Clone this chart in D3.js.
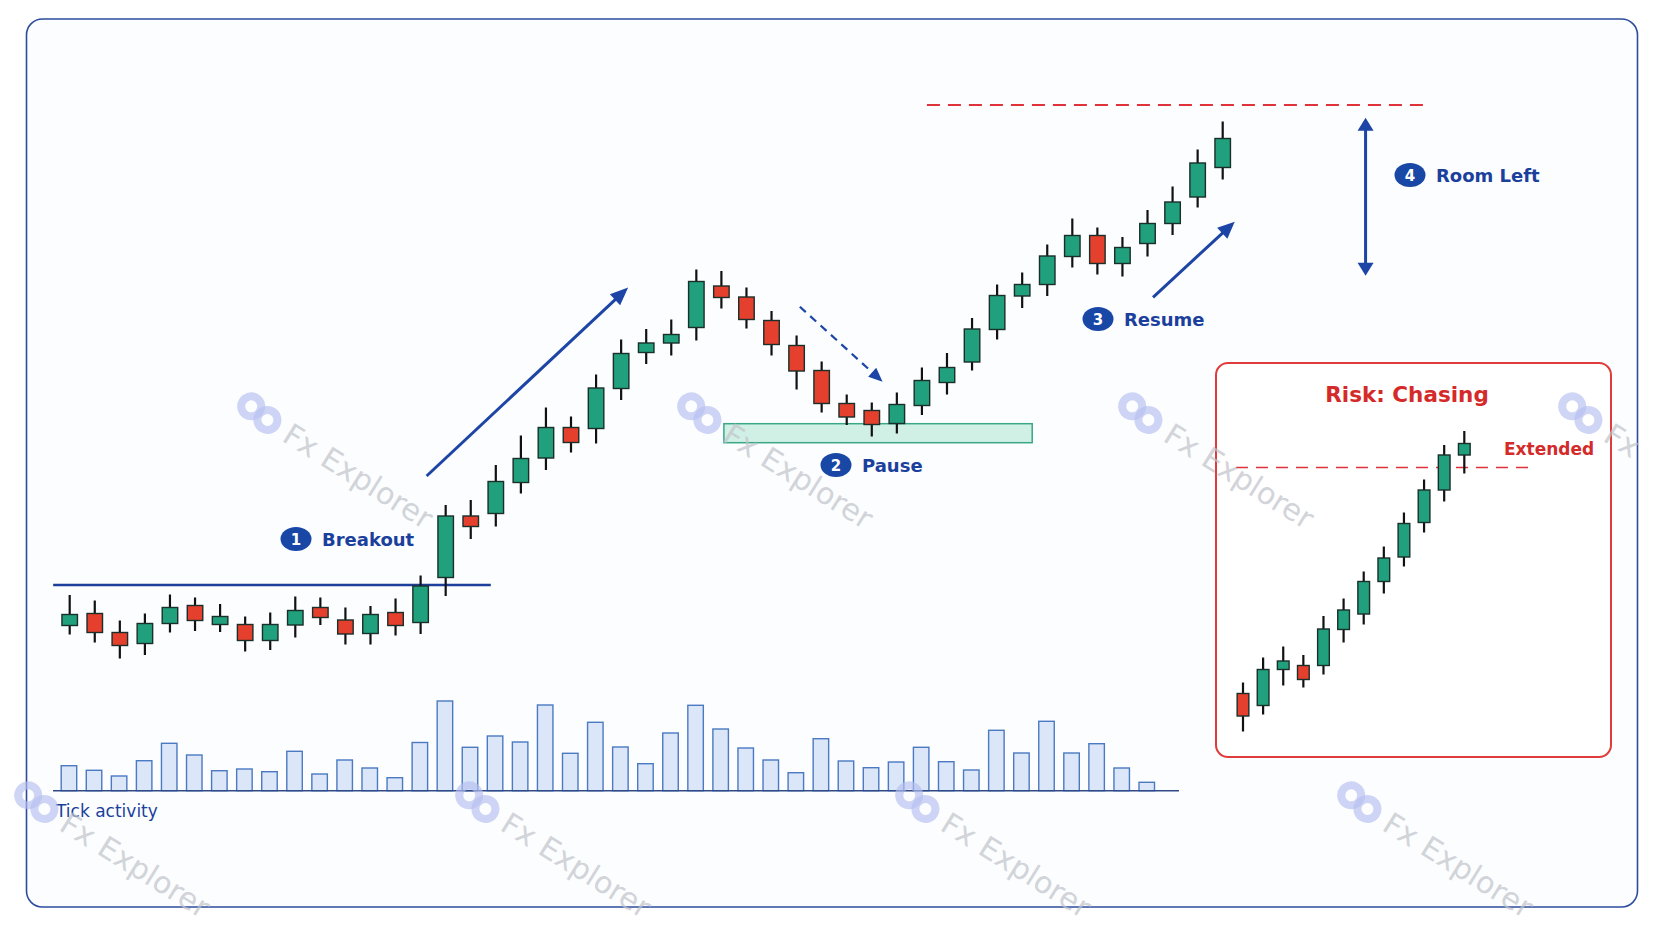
<!DOCTYPE html>
<html><head><meta charset="utf-8">
<script src="https://cdn.jsdelivr.net/npm/d3@7"></script>
<style>html,body{margin:0;padding:0;background:#fff;} svg{display:block;}</style>
</head><body>
<svg id="c" width="1664" height="928"></svg>
<script>
// ---------- DATA ----------
const opens  = [6.9,9.3,5.5,3.3,7.3,10.9,7.1,7.1,3.9,7.0,10.5,8.0,5.3,9.5,7.5,16.5,28.8,29.3,35.5,40.4,46.5,46.3,54.3,61.5,63.4,66.5,74.8,72.6,67.9,62.9,57.9,51.3,49.9,47.3,50.9,55.5,59.6,66.1,72.8,75.1,80.7,84.9,79.3,83.3,87.3,92.6,98.5];
const highs  = [13.0,11.9,7.9,9.3,13.1,12.5,11.2,8.7,9.5,12.7,12.5,10.5,10.8,12.3,16.9,31.0,32.0,39.0,44.9,50.5,48.7,57.1,64.1,66.2,68.1,78.1,77.8,74.5,69.8,64.9,59.7,53.1,51.5,53.5,58.5,61.4,68.4,75.1,77.5,83.1,88.3,86.5,84.6,90.0,94.7,102.1,107.7];
const lows   = [5.1,3.5,0.3,1.0,5.5,5.8,5.6,1.7,2.0,4.5,7.0,3.1,3.1,4.9,5.2,12.8,24.2,26.7,33.3,38.0,41.5,43.3,52.0,59.2,60.9,63.9,70.3,66.3,60.9,54.1,49.5,47.0,44.7,45.3,49.0,53.1,57.9,64.1,70.4,72.8,78.5,77.1,76.7,80.7,85.0,90.5,96.1];
const closes = [9.1,5.5,2.9,7.3,10.5,7.9,8.7,3.9,7.1,9.9,8.5,5.2,9.1,6.9,14.8,28.8,26.7,35.7,40.3,46.5,43.5,54.4,61.3,63.4,65.1,75.7,72.5,68.1,63.1,57.8,51.3,48.6,47.1,51.1,55.9,58.5,66.2,72.9,75.1,80.8,84.9,79.3,82.5,87.3,91.6,99.4,104.3];
const tickVolume = [25,20.4,14.7,30,47.4,35.7,20,21.7,19,39.4,16.7,30.7,22.7,13,48.2,89.7,43.4,54.7,48.7,85.7,37.4,68.4,43.7,27,57.7,85.4,61.7,42.7,30.7,18,52,29.7,23,28.7,43.4,29,20.7,60.4,37.7,69.4,37.7,47,22.7,8.4];

const insetOpen  = [9.3,6.9,14.1,14.9,14.9,22.1,25.2,31.7,36.6,43.5,50.0,57.0];
const insetHigh  = [11.5,16.5,18.7,17.0,24.8,28.3,33.7,38.7,45.5,52.1,59.0,61.8];
const insetLow   = [1.7,5.1,10.9,10.5,13.1,19.5,23.1,29.3,34.7,41.5,47.7,53.3];
const insetClose = [4.8,14.1,15.8,12.1,22.2,26.0,31.7,36.4,43.3,50.0,57.0,59.3];

const breakoutLevel = 15, breakoutSpan = [-0.66, 16.8];
const targetLevel = 111, targetSpan = [34.2, 54.3];
const pauseZone = {from: 26.1, to: 38.4, low: 43.46, high: 47.26};
const extendedLevel = 54.5, extendedSpan = [-0.35, 14.5];
const labels = ["Breakout","Pause","Resume","Room Left"];
const volumeLabel = "Tick activity";
const insetTitle = "Risk: Chasing", insetTag = "Extended";

// ---------- SETUP ----------
const FONT = '"DejaVu Sans", sans-serif';
const GREEN = '#21a07d', RED = '#e5402e', OUT = '#1a2e2a', BLUE = '#1d45a5', LBL = '#1b3f9c';
const svg = d3.select('#c');
svg.append('rect').attr('width',1664).attr('height',928).attr('fill','#ffffff');
svg.append('rect').attr('x',26.5).attr('y',19).attr('width',1611).attr('height',888).attr('rx',16)
  .attr('fill','#fcfdfe').attr('stroke','#2d4c9e').attr('stroke-width',1.6);

const x = d3.scaleLinear().domain([0,46]).range([69.7,1222.7]);
const y = d3.scaleLinear().domain([0,110]).range([660,110]);
const vy = d3.scaleLinear().domain([0,100]).range([790.7,690.7]);
const ix = d3.scaleLinear().domain([0,11]).range([1243,1464.3]);
const iy = d3.scaleLinear().domain([0,60]).range([740,440]);

const main = opens.map((o,i)=>({i,o,h:highs[i],l:lows[i],c:closes[i]}));
const inset = insetOpen.map((o,i)=>({i,o,h:insetHigh[i],l:insetLow[i],c:insetClose[i]}));

function arrow(g,x1,y1,x2,y2,o){
  const dx=x2-x1, dy=y2-y1, len=Math.hypot(dx,dy), ux=dx/len, uy=dy/len, nx=-uy, ny=ux;
  const L=o.hl, W=o.hw;
  let sx=x1, sy=y1;
  if(o.both){ sx=x1+ux*L*0.7; sy=y1+uy*L*0.7; }
  g.append('line').attr('x1',sx).attr('y1',sy).attr('x2',x2-ux*L*0.7).attr('y2',y2-uy*L*0.7)
    .attr('stroke',o.color).attr('stroke-width',o.sw).attr('stroke-dasharray',o.dash||null);
  const head=(tx,ty,ax,ay)=>{
    const bx=tx-ax*L, by=ty-ay*L;
    g.append('path').attr('d',`M${tx},${ty}L${bx+nx*W/2},${by+ny*W/2}L${bx-nx*W/2},${by-ny*W/2}Z`).attr('fill',o.color);
  };
  head(x2,y2,ux,uy);
  if(o.both) head(x1,y1,-ux,-uy);
}

// ---------- VOLUME ----------
const vol = svg.append('g');
vol.selectAll('rect').data(tickVolume).join('rect')
  .attr('x',(d,i)=>x(i)-8.5).attr('width',15.5)
  .attr('y',d=>vy(d)).attr('height',d=>vy(0)-vy(d))
  .attr('fill','#dbe6f8').attr('stroke','#4b79c2').attr('stroke-width',1.4);
vol.append('line').attr('x1',53).attr('x2',1179).attr('y1',vy(0)).attr('y2',vy(0))
  .attr('stroke','#2f4a86').attr('stroke-width',1.6);
vol.append('text').attr('x',56).attr('y',817).text(volumeLabel)
  .attr('font-family',FONT).attr('font-size',17).attr('fill',LBL);

// ---------- ANNOTATIONS (under candles) ----------
const ann = svg.append('g');
ann.append('rect').attr('x',x(pauseZone.from)).attr('width',x(pauseZone.to)-x(pauseZone.from))
  .attr('y',y(pauseZone.high)).attr('height',y(pauseZone.low)-y(pauseZone.high))
  .attr('fill','#c9ede1').attr('fill-opacity',0.85).attr('stroke','#3aa886').attr('stroke-width',1.5);
ann.append('line').attr('x1',x(breakoutSpan[0])).attr('x2',x(breakoutSpan[1]))
  .attr('y1',y(breakoutLevel)).attr('y2',y(breakoutLevel)).attr('stroke','#1d3f9c').attr('stroke-width',2.4);
ann.append('line').attr('x1',x(targetSpan[0])).attr('x2',x(targetSpan[1]))
  .attr('y1',y(targetLevel)).attr('y2',y(targetLevel)).attr('stroke','#e0323a').attr('stroke-width',1.8)
  .attr('stroke-dasharray','13,8');

// arrows
arrow(ann, x(14.24), y(36.8), x(22.28), y(74.5), {color:BLUE, sw:3, hl:18, hw:15});
arrow(ann, x(29.13), y(70.66), x(32.43), y(55.66), {color:BLUE, sw:2.2, hl:14, hw:12, dash:'8,6'});
arrow(ann, x(43.22), y(72.54), x(46.48), y(87.66), {color:BLUE, sw:3, hl:17, hw:15});
arrow(ann, x(51.7), y(108.46), x(51.7), y(76.86), {color:BLUE, sw:3, hl:13, hw:16, both:true});

// ---------- CANDLES ----------
function drawCandles(g, data, xs, ys, bw){
  const c = g.selectAll('g.cd').data(data).join('g').attr('class','cd');
  c.append('line').attr('x1',d=>xs(d.i)).attr('x2',d=>xs(d.i))
    .attr('y1',d=>ys(d.h)).attr('y2',d=>ys(d.l)).attr('stroke','#111').attr('stroke-width',2.2);
  c.append('rect').attr('x',d=>xs(d.i)-bw/2).attr('width',bw)
    .attr('y',d=>ys(Math.max(d.o,d.c))).attr('height',d=>Math.max(1,Math.abs(ys(d.o)-ys(d.c))))
    .attr('fill',d=>d.c>=d.o?GREEN:RED).attr('stroke',OUT).attr('stroke-width',1.4);
}
drawCandles(svg.append('g'), main, x, y, 15.5);

// ---------- LABELS ----------
function badge(cx,cy,num,text){
  const g=svg.append('g');
  g.append('ellipse').attr('cx',cx).attr('cy',cy).attr('rx',15.5).attr('ry',12).attr('fill','#1847a5');
  g.append('text').attr('x',cx).attr('y',cy+5.5).attr('text-anchor','middle').text(num)
    .attr('font-family',FONT).attr('font-weight',700).attr('font-size',15).attr('fill','#fff');
  g.append('text').attr('x',cx+26).attr('y',cy+6.5).text(text)
    .attr('font-family',FONT).attr('font-weight',700).attr('font-size',18).attr('fill',LBL);
}
badge(296,539,'1',labels[0]);
badge(836,465,'2',labels[1]);
badge(1098,319,'3',labels[2]);
badge(1410,175,'4',labels[3]);

// ---------- INSET ----------
const ins = svg.append('g');
ins.append('rect').attr('x',1216).attr('y',363).attr('width',395).attr('height',394).attr('rx',12)
  .attr('fill','#ffffff').attr('stroke','#e03a3a').attr('stroke-width',2);
ins.append('text').attr('x',1407).attr('y',402).attr('text-anchor','middle').text(insetTitle)
  .attr('font-family',FONT).attr('font-weight',700).attr('font-size',21.5).attr('fill','#d42a2a');
ins.append('line').attr('x1',ix(extendedSpan[0])).attr('x2',ix(extendedSpan[1]))
  .attr('y1',iy(extendedLevel)).attr('y2',iy(extendedLevel))
  .attr('stroke','#e0323a').attr('stroke-width',1.6).attr('stroke-dasharray','12,8');
ins.append('text').attr('x',1504).attr('y',455).text(insetTag)
  .attr('font-family',FONT).attr('font-weight',700).attr('font-size',17).attr('fill','#d42a2a');
drawCandles(ins.append('g'), inset, ix, iy, 11.7);

// ---------- WATERMARKS ----------
const wm = svg.append('g').attr('pointer-events','none');
const wmPos = [[260,413,'Fx Explorer'],[700,413,'Fx Explorer'],[1141,413,'Fx Explorer'],[1581,413,'Fx'],
               [37,802,'Fx Explorer'],[478,802,'Fx Explorer'],[918,802,'Fx Explorer'],[1360,802,'Fx Explorer']];
wmPos.forEach(([wx,wy,t])=>{
  const g = wm.append('g').attr('transform',`translate(${wx},${wy}) rotate(32)`);
  g.append('circle').attr('cx',-11).attr('cy',-1).attr('r',10).attr('fill','none')
    .attr('stroke','#b6bef0').attr('stroke-width',8).attr('opacity',0.65);
  g.append('circle').attr('cx',10).attr('cy',2).attr('r',10).attr('fill','none')
    .attr('stroke','#b6bef0').attr('stroke-width',8).attr('opacity',0.65);
  g.append('text').attr('x',32).attr('y',12).text(t)
    .attr('font-family',FONT).attr('font-size',30).attr('fill','#bfc3ca').attr('opacity',0.7);
});
</script>
</body></html>
